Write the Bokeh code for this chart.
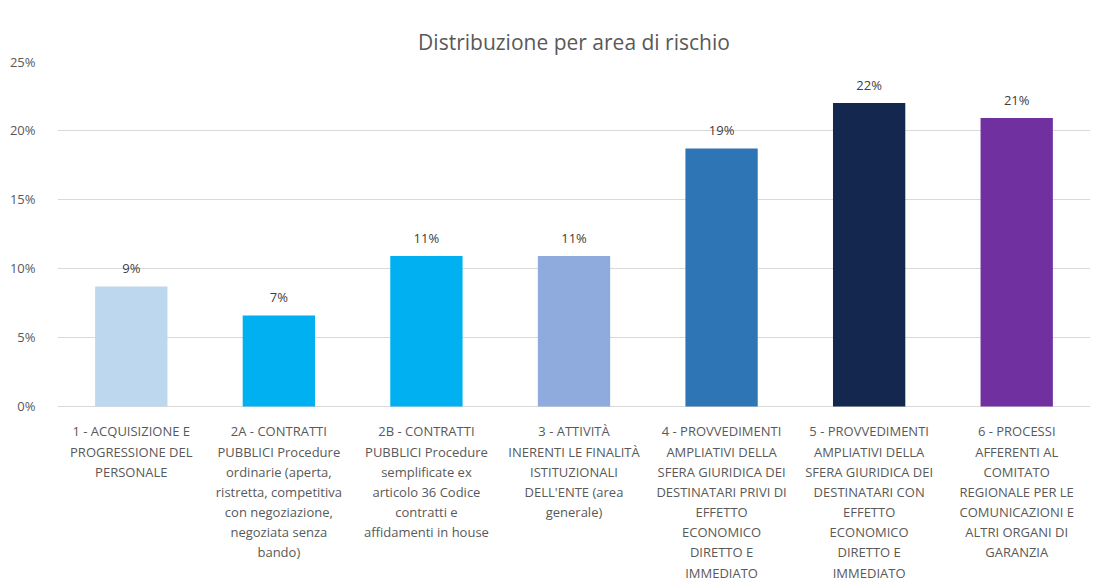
from bokeh.plotting import figure
from bokeh.models import ColumnDataSource, FixedTicker, NumeralTickFormatter, Range1d, FactorRange
from bokeh.core.properties import value
from bokeh.embed import file_html
from bokeh.resources import INLINE

categories = [
    "1 - ACQUISIZIONE E\nPROGRESSIONE DEL\nPERSONALE",
    "2A - CONTRATTI\nPUBBLICI Procedure\nordinarie (aperta,\nristretta, competitiva\ncon negoziazione,\nnegoziata senza\nbando)",
    "2B - CONTRATTI\nPUBBLICI Procedure\nsemplificate ex\narticolo 36 Codice\ncontratti e\naffidamenti in house",
    "3 - ATTIVITÀ\nINERENTI LE FINALITÀ\nISTITUZIONALI\nDELL'ENTE (area\ngenerale)",
    "4 - PROVVEDIMENTI\nAMPLIATIVI DELLA\nSFERA GIURIDICA DEI\nDESTINATARI PRIVI DI\nEFFETTO\nECONOMICO\nDIRETTO E\nIMMEDIATO",
    "5 - PROVVEDIMENTI\nAMPLIATIVI DELLA\nSFERA GIURIDICA DEI\nDESTINATARI CON\nEFFETTO\nECONOMICO\nDIRETTO E\nIMMEDIATO",
    "6 - PROCESSI\nAFFERENTI AL\nCOMITATO\nREGIONALE PER LE\nCOMUNICAZIONI E\nALTRI ORGANI DI\nGARANZIA",
]
values = [0.087, 0.066, 0.109, 0.109, 0.187, 0.220, 0.209]
colors = ["#BDD7EE", "#00B0F0", "#00B0F0", "#8FAADC", "#2E75B6", "#14284F", "#7030A0"]
value_labels = [f"{v * 100:.0f}%" for v in values]
y_ticks = [0, 0.05, 0.10, 0.15, 0.20, 0.25]
baseline = [0.0] * len(categories)

src = ColumnDataSource(dict(cat=categories, val=values, color=colors, lab=value_labels, base=baseline))

FONT = "Open Sans"
p = figure(
    width=1100, height=583,
    x_range=FactorRange(*categories, range_padding=0.0),
    y_range=Range1d(-0.1283, 0.25),
    output_backend="svg", toolbar_location=None,
    title="Distribuzione per area di rischio",
    min_border_left=57, min_border_right=10, min_border_top=61, min_border_bottom=0,
)
p.title.align = "center"
p.title.vertical_align = "middle"
p.title.text_font = FONT
p.title.text_font_size = "21px"
p.title.text_font_style = "normal"
p.title.text_color = "#595959"
p.title.standoff = 10

p.vbar(x="cat", top="val", width=0.49, color="color", source=src, line_color=None)
p.text(x="cat", y="val", text="lab", source=src, text_align="center", text_baseline="bottom",
       y_offset=-9, text_font_size="13px", text_color="#404040", text_font=value(FONT))
p.text(x="cat", y="base", text="cat", source=src, text_align="center", text_baseline="top",
       y_offset=16, text_font_size="13px", text_color="#595959", text_font=value(FONT),
       text_line_height=1.12)

p.outline_line_color = None
p.xgrid.grid_line_color = None
p.ygrid.grid_line_color = "#D9D9D9"
p.ygrid.ticker = FixedTicker(ticks=y_ticks)
p.xaxis.visible = False

p.yaxis.ticker = FixedTicker(ticks=y_ticks)
p.yaxis.formatter = NumeralTickFormatter(format="0%")
p.yaxis.axis_line_color = None
p.yaxis.major_tick_line_color = None
p.yaxis.minor_tick_line_color = None
p.yaxis.major_label_text_font = FONT
p.yaxis.major_label_text_font_size = "13px"
p.yaxis.major_label_text_color = "#595959"
p.yaxis.major_label_standoff = 16

open("out.html", "w").write(file_html(p, INLINE))
